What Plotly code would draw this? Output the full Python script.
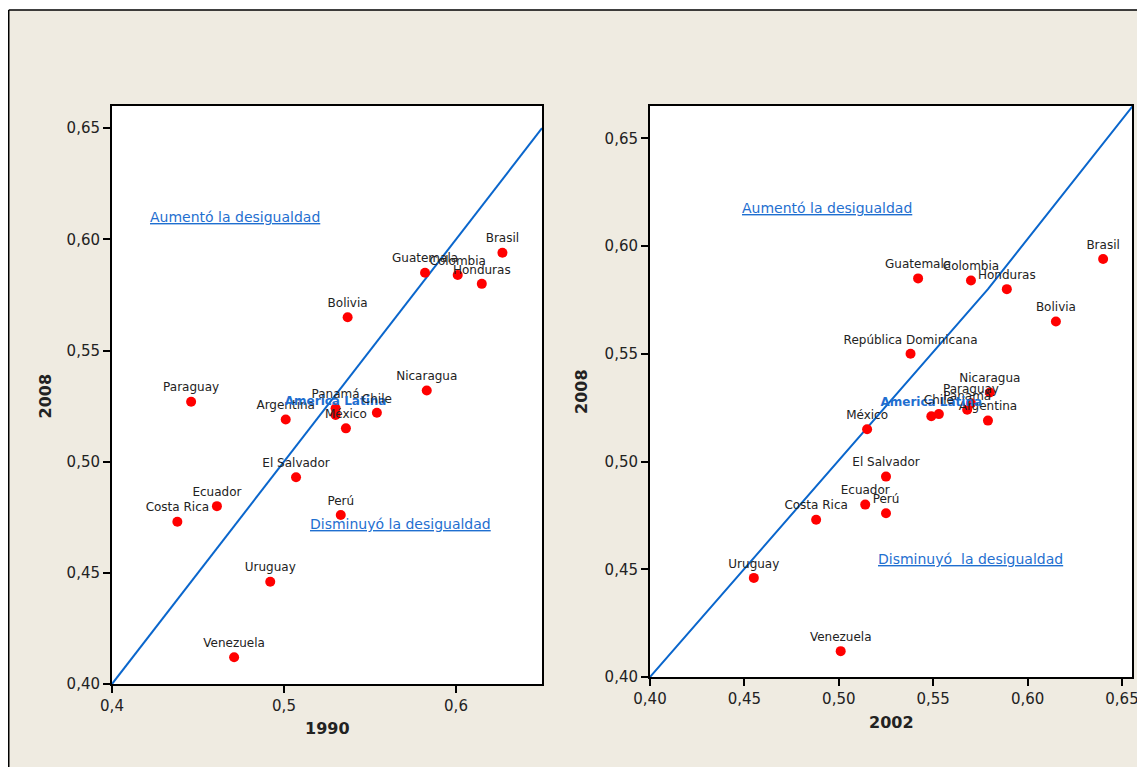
import plotly.graph_objects as go

# ---------------- data (Gini coefficients) ----------------
countries = ["Brasil", "Guatemala", "Colombia", "Honduras", "Bolivia",
             "República Dominicana", "Nicaragua", "Paraguay", "Argentina",
             "Panamá", "America Latina", "México", "Chile", "El Salvador",
             "Ecuador", "Costa Rica", "Perú", "Uruguay", "Venezuela"]
gini_2008 = [0.594, 0.585, 0.584, 0.580, 0.565, 0.550, 0.532, 0.527, 0.519,
             0.524, 0.521, 0.515, 0.522, 0.493, 0.480, 0.473, 0.476, 0.446, 0.412]
gini_1990 = [0.627, 0.582, 0.601, 0.615, 0.537, None, 0.583, 0.446, 0.501,
             0.530, 0.530, 0.536, 0.554, 0.507, 0.461, 0.438, 0.533, 0.492, 0.471]
gini_2002 = [0.640, 0.542, 0.570, 0.589, 0.615, 0.538, 0.580, 0.570, 0.579,
             0.568, 0.549, 0.515, 0.553, 0.525, 0.514, 0.488, 0.525, 0.455, 0.501]

diag_left_x = [0.40, 0.65]
diag_left_y = [0.40, 0.65]
diag_right_x = [0.40, 0.579, 0.6557]
diag_right_y = [0.40, 0.580, 0.665]

ticks_y = [0.40, 0.45, 0.50, 0.55, 0.60, 0.65]
ticks_x_left = [0.4, 0.5, 0.6]
ticks_x_right = [0.40, 0.45, 0.50, 0.55, 0.60, 0.65]

REGION = "America Latina"
BLUE = "#1f6fd0"
LINE_BLUE = "#0a66cc"
TXT = "#222222"
BEIGE = "#efebe1"
FONT = "DejaVu Sans"

# page body has an 8px margin: the figure is placed at (8, 8)
OFF = 8
W, H = 1145 - OFF, 767 - OFF


def px(x):
    return (x - OFF) / W


def py(y):
    return (H - (y - OFF)) / H


def labels_and_colors(names):
    txt = [f"<b>{n}</b>" if n == REGION else n for n in names]
    col = [BLUE if n == REGION else TXT for n in names]
    return txt, col


fig = go.Figure()

# left panel: 1990 vs 2008
lx, ly, ln = [], [], []
for n, a, b in zip(countries, gini_1990, gini_2008):
    if a is not None:
        lx.append(a); ly.append(b); ln.append(n)
lt, lc = labels_and_colors(ln)

fig.add_trace(go.Scatter(x=diag_left_x, y=diag_left_y, mode="lines",
                         line=dict(color=LINE_BLUE, width=2),
                         xaxis="x", yaxis="y", hoverinfo="skip"))
fig.add_trace(go.Scatter(x=lx, y=ly, mode="markers+text", text=lt,
                         textposition="top center",
                         textfont=dict(family=FONT, size=12, color=lc),
                         marker=dict(color="#ff0000", size=10),
                         xaxis="x", yaxis="y", cliponaxis=False))

# right panel: 2002 vs 2008
rt, rc = labels_and_colors(countries)
fig.add_trace(go.Scatter(x=diag_right_x, y=diag_right_y, mode="lines",
                         line=dict(color=LINE_BLUE, width=2),
                         xaxis="x2", yaxis="y2", hoverinfo="skip"))
fig.add_trace(go.Scatter(x=gini_2002, y=gini_2008, mode="markers+text", text=rt,
                         textposition="top center",
                         textfont=dict(family=FONT, size=12, color=rc),
                         marker=dict(color="#ff0000", size=10),
                         xaxis="x2", yaxis="y2", cliponaxis=False))

axis_common = dict(showgrid=False, zeroline=False, showline=True, linecolor="black",
                   linewidth=2, mirror=True, ticks="outside", ticklen=7,
                   tickwidth=2, tickcolor="black", automargin=False,
                   tickfont=dict(family=FONT, size=15, color=TXT))

fig.update_layout(
    width=W, height=H, autosize=False,
    margin=dict(l=0, r=0, t=0, b=0, pad=0),
    paper_bgcolor=BEIGE, plot_bgcolor="white",
    showlegend=False,
    separators=", ",
    xaxis=dict(domain=[px(112), px(542)], range=[0.4, 0.65], anchor="y",
               tickvals=ticks_x_left, tickformat=".1f", **axis_common),
    yaxis=dict(domain=[py(684), py(106)], range=[0.40, 0.660],
               anchor="x", tickvals=ticks_y, tickformat=".2f", **axis_common),
    xaxis2=dict(domain=[px(650), px(1132)], range=[0.40, 0.6553], anchor="y2",
                tickvals=ticks_x_right, tickformat=".2f", **axis_common),
    yaxis2=dict(domain=[py(677), py(106)], range=[0.40, 0.665],
                anchor="x2", tickvals=ticks_y, tickformat=".2f", **axis_common),
)

ann_font = dict(family=FONT, size=14, color=BLUE)
title_font = dict(family=FONT, size=16, color=TXT)
annotations = [
    dict(text="<u>Aumentó la desigualdad</u>", x=0.4209, y=0.610, xref="x", yref="y",
         xanchor="left", yanchor="middle", showarrow=False, font=ann_font),
    dict(text="<u>Disminuyó la desigualdad</u>", x=0.514, y=0.472, xref="x", yref="y",
         xanchor="left", yanchor="middle", showarrow=False, font=ann_font),
    dict(text="<u>Aumentó la desigualdad</u>", x=0.4477, y=0.6177, xref="x2", yref="y2",
         xanchor="left", yanchor="middle", showarrow=False, font=ann_font),
    dict(text="<u>Disminuyó  la desigualdad</u>", x=0.5198, y=0.4548, xref="x2", yref="y2",
         xanchor="left", yanchor="middle", showarrow=False, font=ann_font),
    dict(text="<b>1990</b>", x=px(327), y=py(728), xref="paper", yref="paper",
         xanchor="center", yanchor="middle", showarrow=False, font=title_font),
    dict(text="<b>2002</b>", x=px(891), y=py(722), xref="paper", yref="paper",
         xanchor="center", yanchor="middle", showarrow=False, font=title_font),
    dict(text="<b>2008</b>", x=px(44.5), y=py(396), xref="paper", yref="paper",
         xanchor="center", yanchor="middle", showarrow=False, textangle=-90, font=title_font),
    dict(text="<b>2008</b>", x=px(581), y=py(392), xref="paper", yref="paper",
         xanchor="center", yanchor="middle", showarrow=False, textangle=-90, font=title_font),
]
fig.update_layout(annotations=annotations)

# white strip above the beige panel, plus its black top/left border
top = py(10)
left = px(8.75)
fig.update_layout(shapes=[
    dict(type="rect", xref="paper", yref="paper", x0=0, x1=1, y0=top, y1=1,
         fillcolor="white", line=dict(width=0), layer="above"),
    dict(type="line", xref="paper", yref="paper", x0=left, x1=1, y0=top, y1=top,
         line=dict(color="black", width=1.5), layer="above"),
    dict(type="line", xref="paper", yref="paper", x0=left, x1=left, y0=0, y1=top,
         line=dict(color="black", width=1.5), layer="above"),
])

fig.write_html("out.html")
